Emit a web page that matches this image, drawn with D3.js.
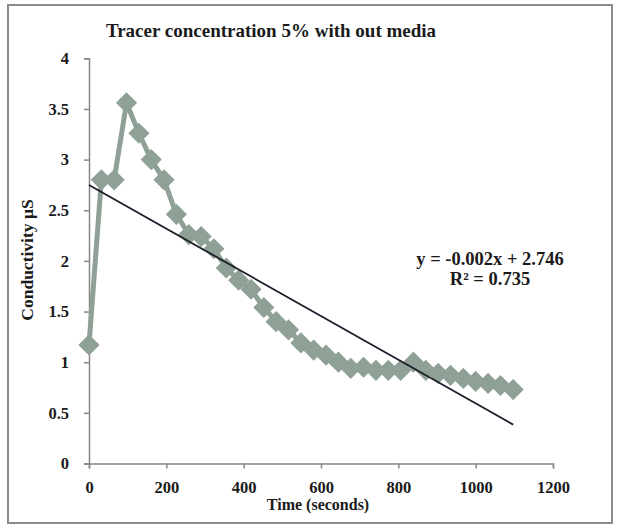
<!DOCTYPE html>
<html>
<head>
<meta charset="utf-8">
<script src="https://cdn.jsdelivr.net/npm/d3@7"></script>
<style>
  body { margin: 0; background: #fff; }
  text { font-family: "Liberation Serif", "Times New Roman", serif; font-weight: bold; fill: #1a1a1a; }
</style>
</head>
<body>
<div id="chart"></div>
<script>
const width = 619, height = 530;

// Readings (time in seconds, conductivity in µS)
const times = [0, 32, 65, 97, 129, 161, 194, 226, 258, 290, 323, 355, 387, 419, 452, 484, 516, 548,
               581, 613, 645, 677, 710, 742, 774, 806, 839, 871, 903, 935, 968, 1000, 1032, 1064, 1097];
const conductivity = [1.17, 2.80, 2.80, 3.56, 3.26, 3.00, 2.80, 2.46, 2.26, 2.24, 2.12, 1.93, 1.81, 1.72,
                      1.54, 1.40, 1.32, 1.19, 1.12, 1.07, 1.00, 0.94, 0.95, 0.92, 0.92, 0.92, 1.00, 0.92,
                      0.89, 0.87, 0.84, 0.81, 0.79, 0.77, 0.73];
const xTicks = [0, 200, 400, 600, 800, 1000, 1200];
const yTicks = [0, 0.5, 1, 1.5, 2, 2.5, 3, 3.5, 4];
const equationLines = ["y = -0.002x + 2.746", "R² = 0.735"];

const data = times.map((t, i) => ({ t: t, c: conductivity[i] }));

const svg = d3.select("#chart").append("svg")
    .attr("width", width)
    .attr("height", height);

// outer chart border
svg.append("rect")
    .attr("x", 8).attr("y", 5)
    .attr("width", 604).attr("height", 518)
    .attr("fill", "#fff")
    .attr("stroke", "#8c8c8c")
    .attr("stroke-width", 2);

const x = d3.scaleLinear().domain([0, 1200]).range([89, 553]);
const y = d3.scaleLinear().domain([0, 4]).range([463.5, 58.3]);

// axes
const xAxis = svg.append("g")
    .attr("transform", `translate(0,${y(0)})`)
    .call(d3.axisBottom(x).tickValues(xTicks).tickSize(5).tickFormat(d3.format("d")));
const yAxis = svg.append("g")
    .attr("transform", `translate(${x(0)},0)`)
    .call(d3.axisLeft(y).tickValues(yTicks).tickSize(5).tickFormat(d => d));

[xAxis, yAxis].forEach(g => {
    g.attr("font-family", null).attr("font-size", null);
    g.select(".domain").attr("stroke", "#868686").attr("stroke-width", 1.5);
    g.selectAll(".tick line").attr("stroke", "#868686").attr("stroke-width", 1.5);
    g.selectAll(".tick text")
        .style("font-family", "'Liberation Serif', serif")
        .style("font-size", "16.5px")
        .attr("fill", "#1a1a1a");
});
xAxis.selectAll(".tick text").attr("y", 18);
yAxis.selectAll(".tick text").attr("x", -20);

// data series
const seriesColor = "#8fa196";
svg.append("path")
    .datum(data)
    .attr("fill", "none")
    .attr("stroke", seriesColor)
    .attr("stroke-width", 5)
    .attr("stroke-linejoin", "round")
    .attr("d", d3.line().x(d => x(d.t)).y(d => y(d.c)));

svg.selectAll(".marker")
    .data(data)
    .join("path")
    .attr("class", "marker")
    .attr("transform", d => `translate(${x(d.t)},${y(d.c)}) rotate(45)`)
    .attr("d", "M-7.5,-7.5H7.5V7.5H-7.5Z")
    .attr("fill", seriesColor);

// linear trendline (least squares)
const meanT = d3.mean(times), meanC = d3.mean(conductivity);
const slope = d3.sum(data, d => (d.t - meanT) * (d.c - meanC)) / d3.sum(data, d => (d.t - meanT) ** 2);
const intercept = meanC - slope * meanT;
const trendX = [0, d3.max(times)];
svg.append("line")
    .attr("x1", x(trendX[0])).attr("y1", y(intercept + slope * trendX[0]))
    .attr("x2", x(trendX[1])).attr("y2", y(intercept + slope * trendX[1]))
    .attr("stroke", "#1c1c2a")
    .attr("stroke-width", 1.8);

// equation label
svg.selectAll(".eq")
    .data(equationLines)
    .join("text")
    .attr("class", "eq")
    .attr("x", 490)
    .attr("y", (d, i) => 265 + i * 20)
    .attr("text-anchor", "middle")
    .style("font-size", "18.5px")
    .text(d => d);

// titles
svg.append("text")
    .attr("x", 271).attr("y", 37)
    .attr("text-anchor", "middle")
    .style("font-size", "19px")
    .text("Tracer concentration 5% with out media");

svg.append("text")
    .attr("x", 318).attr("y", 510)
    .attr("text-anchor", "middle")
    .style("font-size", "16px")
    .text("Time (seconds)");

svg.append("text")
    .attr("transform", "translate(33,260) rotate(-90)")
    .attr("text-anchor", "middle")
    .style("font-size", "17.5px")
    .text("Conductivity µS");
</script>
</body>
</html>
